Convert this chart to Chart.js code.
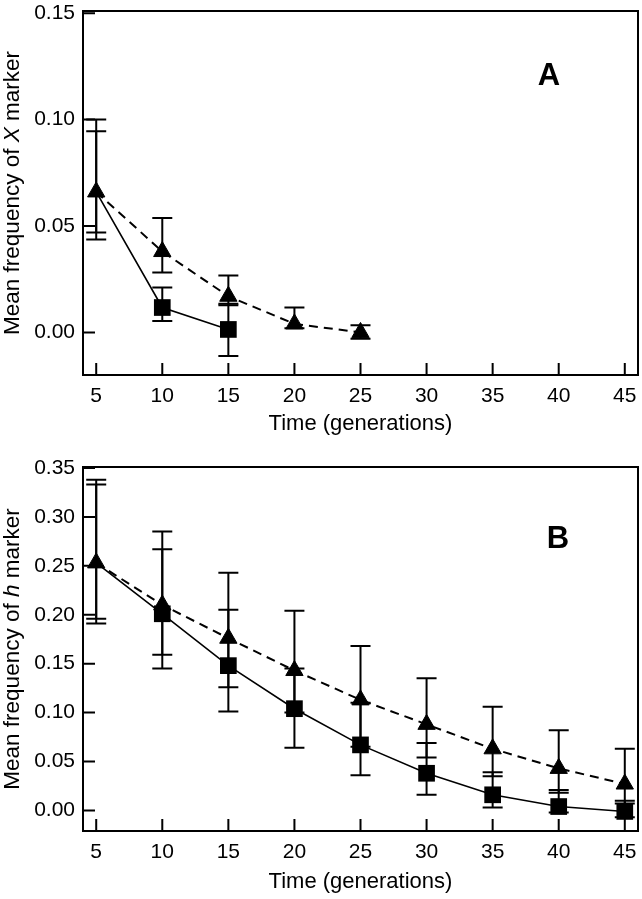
<!DOCTYPE html>
<html>
<head>
<meta charset="utf-8">
<script src="https://cdn.jsdelivr.net/npm/chart.js@4.4.1/dist/chart.umd.min.js"></script>
<style>
  html, body { margin: 0; padding: 0; background: #fff; }
  #wrap { position: relative; width: 642px; height: 899px; }
  .panel { position: absolute; left: 0; width: 642px; }
  #panel-a { top: 0; height: 440px; }
  #panel-b { top: 440px; height: 459px; }
</style>
</head>
<body>
<div id="wrap">
  <div class="panel" id="panel-a"><canvas id="chart-a"></canvas></div>
  <div class="panel" id="panel-b"><canvas id="chart-b"></canvas></div>
</div>
<script>
const FONT = "'Liberation Sans', Arial, Helvetica, sans-serif";

// x axis (generations) and tick labels
const generations = [5, 10, 15, 20, 25, 30, 35, 40, 45];
const xTicks = [5, 10, 15, 20, 25, 30, 35, 40, 45];
const yTicksA = [0, 0.05, 0.10, 0.15];
const yTicksB = [0, 0.05, 0.10, 0.15, 0.20, 0.25, 0.30, 0.35];

// panel A - X marker
const aTriMean = [0.066, 0.038, 0.017, 0.004, 0.000];
const aTriLow  = [0.0437, 0.0282, 0.0128, 0.002, -0.003];
const aTriHigh = [0.100, 0.0538, 0.0268, 0.0117, 0.0034];
const aSqMean  = [0.066, 0.0117, 0.0014];
const aSqLow   = [0.047, 0.0054, -0.0111];
const aSqHigh  = [0.0945, 0.0211, 0.0135];

// panel B - h marker
const bTriMean = [0.253, 0.210, 0.176, 0.143, 0.113, 0.088, 0.063, 0.043, 0.027];
const bTriLow  = [0.191, 0.159, 0.126, 0.100, 0.065, 0.054, 0.035, 0.018, 0.007];
const bTriHigh = [0.338, 0.285, 0.243, 0.204, 0.168, 0.135, 0.106, 0.082, 0.063];
const bSqMean  = [0.253, 0.201, 0.148, 0.104, 0.067, 0.038, 0.016, 0.004, -0.001];
const bSqLow   = [0.196, 0.145, 0.101, 0.064, 0.036, 0.016, 0.003, -0.002, -0.007];
const bSqHigh  = [0.333, 0.267, 0.205, 0.145, 0.110, 0.069, 0.039, 0.021, 0.010];

function points(means) {
  return means.map((v, i) => ({ x: generations[i], y: v }));
}

function triangleSet(means, low, high) {
  return {
    data: points(means),
    errLow: low, errHigh: high,
    borderColor: '#000', borderWidth: 2, borderDash: [9, 6],
    pointStyle: 'triangle', pointRadius: 10,
    pointBackgroundColor: '#000', pointBorderColor: '#000', pointBorderWidth: 1,
    fill: false, tension: 0
  };
}

function squareSet(means, low, high) {
  return {
    data: points(means),
    errLow: low, errHigh: high,
    borderColor: '#000', borderWidth: 1.6,
    pointStyle: 'rect',
    // first square sits under the triangle, not drawn
    pointRadius: means.map((v, i) => i === 0 ? 0 : 11.8),
    pointBackgroundColor: '#000', pointBorderColor: '#000', pointBorderWidth: 0,
    fill: false, tension: 0
  };
}

// error bars, frame, inward ticks, panel letter, y title with italic letter
const decorate = {
  id: 'decorate',
  beforeDatasetsDraw(chart) {
    const ctx = chart.ctx, xs = chart.scales.x, ys = chart.scales.y;
    ctx.save();
    ctx.strokeStyle = '#000';
    ctx.lineWidth = 2;
    chart.data.datasets.forEach(ds => {
      ds.data.forEach((p, i) => {
        const x = xs.getPixelForValue(p.x);
        const y1 = ys.getPixelForValue(ds.errLow[i]);
        const y2 = ys.getPixelForValue(ds.errHigh[i]);
        ctx.beginPath();
        ctx.moveTo(x, y1); ctx.lineTo(x, y2);
        ctx.moveTo(x - 10, y1); ctx.lineTo(x + 10, y1);
        ctx.moveTo(x - 10, y2); ctx.lineTo(x + 10, y2);
        ctx.stroke();
      });
    });
    ctx.restore();
  },
  afterDraw(chart, args, opts) {
    const ctx = chart.ctx, a = chart.chartArea;
    const xs = chart.scales.x, ys = chart.scales.y;
    ctx.save();
    ctx.strokeStyle = '#000';
    ctx.lineWidth = 2;
    ctx.strokeRect(a.left, a.top, a.right - a.left, a.bottom - a.top);
    ctx.beginPath();
    xs.ticks.forEach(t => {
      const x = xs.getPixelForValue(t.value);
      ctx.moveTo(x, a.bottom); ctx.lineTo(x, a.bottom - 12);
    });
    ys.ticks.forEach(t => {
      const y = ys.getPixelForValue(t.value);
      ctx.moveTo(a.left, y); ctx.lineTo(a.left + 12, y);
    });
    ctx.stroke();

    ctx.fillStyle = '#000';
    ctx.textAlign = 'center';
    ctx.textBaseline = 'middle';
    ctx.font = 'bold 31px ' + FONT;
    ctx.fillText(opts.letter, opts.letterX, opts.letterY);

    // rotated y title
    const normal = '22.5px ' + FONT, italic = 'italic 22.5px ' + FONT;
    const parts = [['Mean frequency of ', normal], [opts.symbol, italic], [' marker', normal]];
    let total = 0;
    parts.forEach(p => { ctx.font = p[1]; total += ctx.measureText(p[0]).width; });
    ctx.translate(13, (a.top + a.bottom) / 2);
    ctx.rotate(-Math.PI / 2);
    ctx.textAlign = 'left';
    let cx = -total / 2;
    parts.forEach(p => {
      ctx.font = p[1];
      ctx.fillText(p[0], cx, 0);
      cx += ctx.measureText(p[0]).width;
    });
    ctx.restore();
  }
};

function makeChart(id, datasets, yTicks, yMin, yMax, topPad, xHeight, titlePad, letter) {
  new Chart(document.getElementById(id).getContext('2d'), {
    type: 'line',
    data: { datasets: datasets },
    options: {
      responsive: true,
      maintainAspectRatio: false,
      animation: false,
      layout: { autoPadding: false, padding: { top: topPad, right: 4, left: 0, bottom: 0 } },
      plugins: {
        legend: { display: false },
        tooltip: { enabled: false },
        decorate: letter
      },
      scales: {
        x: {
          type: 'linear', min: 4, max: 46,
          afterBuildTicks: s => { s.ticks = xTicks.map(v => ({ value: v })); },
          afterFit: s => { s.height = xHeight; s.paddingLeft = 0; s.paddingRight = 0; },
          grid: { display: false, drawTicks: false },
          border: { display: false },
          ticks: { color: '#000', font: { family: FONT, size: 21 }, padding: 9, maxRotation: 0 },
          title: {
            display: true, text: 'Time (generations)', color: '#000',
            font: { family: FONT, size: 22 }, padding: { top: 0, bottom: titlePad }
          }
        },
        y: {
          type: 'linear', min: yMin, max: yMax,
          afterBuildTicks: s => { s.ticks = yTicks.map(v => ({ value: v })); },
          afterFit: s => { s.width = 83; s.paddingTop = 0; s.paddingBottom = 0; },
          grid: { display: false, drawTicks: false },
          border: { display: false },
          ticks: {
            color: '#000', font: { family: FONT, size: 21 }, padding: 8,
            callback: v => v.toFixed(2)
          }
        }
      }
    },
    plugins: [decorate]
  });
}

makeChart('chart-a',
  [triangleSet(aTriMean, aTriLow, aTriHigh), squareSet(aSqMean, aSqLow, aSqHigh)],
  yTicksA, -0.02, 0.151, 11, 65, 3,
  { letter: 'A', letterX: 549, letterY: 76, symbol: 'X' });

makeChart('chart-b',
  [triangleSet(bTriMean, bTriLow, bTriHigh), squareSet(bSqMean, bSqLow, bSqHigh)],
  yTicksB, -0.021, 0.351, 27, 68, 4,
  { letter: 'B', letterX: 558, letterY: 99, symbol: 'h' });
</script>
</body>
</html>
